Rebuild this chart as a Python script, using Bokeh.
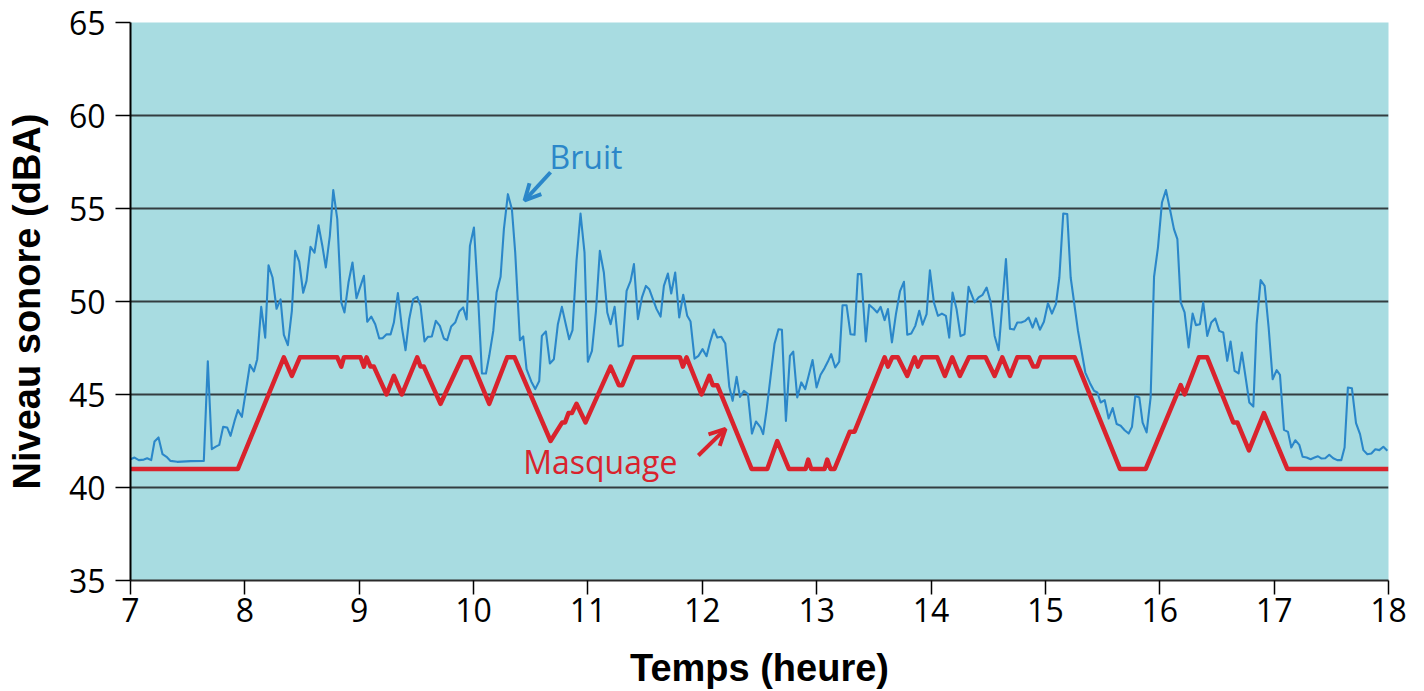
from bokeh.plotting import figure
from bokeh.models import FixedTicker, Label, Arrow, OpenHead
from bokeh.embed import file_html
from bokeh.resources import INLINE

# ---- data ----
bruit_h = [7.000, 7.035, 7.073, 7.117, 7.146, 7.181, 7.210, 7.245, 7.280, 7.315, 7.350, 7.408, 7.525, 7.641,
           7.676, 7.711, 7.746, 7.776, 7.810, 7.845, 7.875, 7.910, 7.939, 7.974, 8.009, 8.044, 8.079, 8.108,
           8.143, 8.178, 8.207, 8.242, 8.277, 8.312, 8.341, 8.376, 8.411, 8.440, 8.475, 8.510, 8.539, 8.574,
           8.609, 8.644, 8.679, 8.708, 8.743, 8.773, 8.808, 8.843,
           8.871, 8.906, 8.941, 8.976, 9.041, 9.070, 9.105, 9.140, 9.175, 9.204, 9.239, 9.274, 9.303, 9.338,
           9.373, 9.405, 9.437, 9.472, 9.507, 9.536, 9.571, 9.600, 9.635, 9.670, 9.705, 9.740, 9.769, 9.804,
           9.839, 9.874, 9.909, 9.939, 9.968, 10.003, 10.038, 10.073, 10.108, 10.137, 10.172, 10.201, 10.236,
           10.265, 10.300, 10.335, 10.364, 10.405, 10.434, 10.463, 10.504, 10.539, 10.574, 10.597, 10.632,
           10.667, 10.702,
           10.737, 10.772, 10.807, 10.836, 10.865, 10.900, 10.935, 10.970, 10.999, 11.035, 11.070, 11.104,
           11.139, 11.169, 11.198, 11.233, 11.268, 11.303, 11.338, 11.373, 11.402, 11.437, 11.472, 11.507,
           11.536, 11.571, 11.600, 11.635, 11.664, 11.699, 11.728, 11.763, 11.798, 11.833, 11.868, 11.897,
           11.932, 11.967, 12.002, 12.037, 12.067, 12.101, 12.131, 12.166, 12.201, 12.236, 12.265, 12.300,
           12.329, 12.364, 12.399, 12.434, 12.469,
           12.509, 12.532, 12.561, 12.596, 12.631, 12.666, 12.696, 12.731, 12.766, 12.795, 12.830, 12.865,
           12.900, 12.929, 12.964, 12.999, 13.034, 13.069, 13.098, 13.127, 13.162, 13.197, 13.226, 13.261,
           13.296, 13.331, 13.360, 13.389, 13.430, 13.459, 13.494, 13.529, 13.559, 13.594, 13.623, 13.658,
           13.693, 13.728, 13.763, 13.792, 13.827, 13.862, 13.897, 13.926, 13.961, 13.990, 14.025, 14.060,
           14.095, 14.130, 14.159, 14.188, 14.223, 14.258, 14.293, 14.328,
           14.381, 14.416, 14.451, 14.486, 14.521, 14.556, 14.591, 14.626, 14.655, 14.690, 14.725, 14.754,
           14.789, 14.824, 14.853, 14.888, 14.917, 14.952, 14.987, 15.022, 15.057, 15.092, 15.122, 15.156,
           15.191, 15.221, 15.285, 15.349, 15.390, 15.425, 15.454, 15.483, 15.518, 15.553, 15.588, 15.623,
           15.658, 15.693, 15.728, 15.757, 15.786, 15.821, 15.850, 15.885, 15.920, 15.950, 15.984, 16.019,
           16.054, 16.089, 16.124, 16.154, 16.183,
           16.217, 16.252, 16.287, 16.316, 16.351, 16.380, 16.415, 16.450, 16.485, 16.520, 16.555, 16.590,
           16.619, 16.654, 16.689, 16.718, 16.753, 16.783, 16.818, 16.847, 16.882, 16.917, 16.952, 16.987,
           17.022, 17.051, 17.086, 17.121, 17.150, 17.185, 17.220, 17.249, 17.284, 17.319, 17.354, 17.383,
           17.412, 17.447, 17.482, 17.517, 17.552, 17.587, 17.616, 17.645, 17.680, 17.716, 17.751, 17.780,
           17.815, 17.850, 17.885, 17.920, 17.955, 17.990]
bruit_db = [41.52, 41.61, 41.47, 41.50, 41.57, 41.47, 42.47, 42.69, 41.79, 41.65, 41.43, 41.38, 41.42, 41.43,
            46.78, 42.06, 42.20, 42.29, 43.26, 43.23, 42.78, 43.58, 44.16, 43.80, 45.20, 46.60, 46.24, 46.90,
            49.71, 48.06, 51.94, 51.29, 49.61, 50.11, 48.21, 47.65, 49.50, 52.72, 52.15, 50.47, 51.11, 52.94,
            52.63, 54.10, 52.94, 51.83, 53.53, 55.99, 54.43, 49.95,
            49.41, 51.02, 52.10, 50.18, 51.38, 48.91, 49.19, 48.78, 48.01, 48.03, 48.24, 48.23, 48.87, 50.45,
            48.60, 47.38, 49.05, 50.13, 50.25, 49.77, 47.85, 48.10, 48.12, 48.96, 48.69, 48.01, 47.92, 48.66,
            48.87, 49.46, 49.68, 49.03, 52.99, 53.98, 50.39, 46.13, 46.13, 47.08, 48.42, 50.48, 51.33,
            53.89, 55.77, 54.96, 52.63, 47.92, 48.12, 46.36, 45.70, 45.29, 45.73, 48.15, 48.39,
            46.67, 46.90,
            48.78, 49.71, 48.75, 47.97, 48.46, 52.19, 54.73, 52.63, 46.76, 47.35, 49.50, 52.72,
            51.56, 49.41, 48.78, 49.71, 47.58, 47.65, 50.57, 51.11, 52.01, 49.05, 50.22, 50.84,
            50.66, 50.07, 49.59, 49.19, 50.84, 51.50, 50.43, 51.56, 49.14, 50.36, 49.23, 48.92,
            46.93, 47.08, 47.44, 47.06, 47.80, 48.49, 48.06, 48.10, 47.74, 45.41, 44.66, 45.95,
            44.87, 45.20, 45.02, 42.90, 43.55,
            43.23, 42.87, 44.12, 45.91, 47.71, 48.51, 48.48, 43.58, 47.08, 47.31, 44.84, 45.65,
            45.29, 46.00, 46.85, 45.38, 46.06, 46.42, 46.77, 47.17, 46.45, 46.77, 49.80, 49.80,
            48.24, 48.21, 51.47, 51.47, 47.85, 49.82, 49.64, 49.41, 49.71, 49.00, 49.59, 47.80,
            49.32, 50.54, 51.06, 48.21, 48.28, 48.69, 49.50, 48.75, 49.32, 51.68, 49.95, 49.23,
            49.35, 49.23, 48.06, 50.48, 49.59, 48.14, 48.24, 50.79,
            49.95, 50.22, 50.36, 50.75, 49.98, 48.15, 47.38, 50.04, 52.28, 48.53, 48.49, 48.87,
            48.87, 48.96, 49.14, 48.60, 49.09, 48.48, 48.91, 49.91, 49.35, 49.86, 51.29, 54.73,
            54.70, 51.29, 48.42, 46.18, 45.61, 45.20, 45.11, 44.57, 44.70, 43.71, 44.27, 43.41,
            43.32, 43.08, 42.90, 43.26, 44.93, 44.84, 43.49, 42.96, 44.84, 51.33, 52.90, 55.32,
            55.99, 54.96, 53.89, 53.35, 49.95,
            49.41, 47.53, 49.35, 48.73, 48.78, 49.95, 48.15, 48.87, 49.09, 48.42, 48.33, 46.81,
            47.85, 46.27, 46.13, 47.26, 45.82, 44.57, 44.35, 48.78, 51.15, 50.84, 48.60, 45.82,
            46.31, 46.06, 43.10, 42.99, 42.15, 42.54, 42.29, 41.65, 41.61, 41.52, 41.61, 41.68,
            41.56, 41.57, 41.76, 41.57, 41.47, 41.47, 42.15, 45.38, 45.34, 43.46, 42.87, 42.01,
            41.79, 41.83, 42.06, 42.01, 42.19, 41.97]

masq_h = [7.000, 7.939, 8.341, 8.411, 8.481, 8.808, 8.843, 8.866, 9.011, 9.041, 9.064, 9.099, 9.128,
          9.239, 9.303, 9.373, 9.507, 9.536, 9.565, 9.711, 9.901, 9.968, 10.137, 10.294, 10.358, 10.673,
          10.775, 10.800, 10.830, 10.860, 10.900, 10.979, 11.198, 11.270, 11.300, 11.401, 11.804, 11.830,
          11.862, 11.993, 12.061, 12.092, 12.131, 12.431, 12.568, 12.655, 12.757, 12.903, 12.926, 12.952,
          13.069, 13.092, 13.121, 13.156, 13.290, 13.331, 13.594, 13.623, 13.661, 13.710, 13.792, 13.856,
          13.885, 13.923, 14.054, 14.121, 14.185, 14.252, 14.331, 14.477, 14.556, 14.623, 14.690, 14.754,
          14.856, 14.894, 14.929, 14.958, 15.256, 15.652, 15.877, 16.183, 16.217, 16.342, 16.415, 16.643,
          16.678, 16.780, 16.911, 17.115, 18.000]
masq_db = [41.0, 41.0, 47.0, 46.0, 47.0, 47.0, 46.5, 47.0, 47.0, 46.5, 47.0, 46.5, 46.5,
           45.0, 46.0, 45.0, 47.0, 46.5, 46.5, 44.5, 47.0, 47.0, 44.5, 47.0, 47.0, 42.5,
           43.5, 43.5, 44.0, 44.0, 44.5, 43.5, 46.5, 45.5, 45.5, 47.0, 47.0, 46.5,
           47.0, 45.0, 46.0, 45.5, 45.5, 41.0, 41.0, 42.5, 41.0, 41.0, 41.5, 41.0,
           41.0, 41.5, 41.0, 41.0, 43.0, 43.0, 47.0, 46.5, 47.0, 47.0, 46.0, 47.0,
           46.5, 47.0, 47.0, 46.0, 47.0, 46.0, 47.0, 47.0, 46.0, 47.0, 46.0, 47.0,
           47.0, 46.5, 46.5, 47.0, 47.0, 41.0, 41.0, 45.5, 45.0, 47.0, 47.0, 43.5,
           43.5, 42.0, 44.0, 41.0, 41.0]

x_ticks = [7, 8, 9, 10, 11, 12, 13, 14, 15, 16, 17, 18]
y_ticks = [35, 40, 45, 50, 55, 60, 65]
grid_ticks = [40, 45, 50, 55, 60]

BLUE = "#2B87C9"
RED = "#D9232D"
BG = "#A8DCE1"

p = figure(frame_width=1258, frame_height=558, x_range=(7, 18), y_range=(35, 65),
           output_backend="svg", toolbar_location=None,
           min_border_left=130, min_border_top=22, min_border_right=20, min_border_bottom=100)
p.background_fill_color = BG
p.border_fill_color = "white"
p.outline_line_color = None

p.xgrid.grid_line_color = None
p.ygrid.ticker = FixedTicker(ticks=grid_ticks)
p.ygrid.grid_line_color = "#333D40"
p.ygrid.grid_line_width = 1.8

for ax in (p.xaxis[0], p.yaxis[0]):
    ax.major_label_text_font = "Open Sans"
    ax.major_label_text_font_size = "32px"
    ax.major_label_text_color = "black"
    ax.axis_label_text_font = "Liberation Sans"
    ax.axis_label_text_font_style = "bold"
    ax.axis_label_text_font_size = "38px"
    ax.axis_label_text_color = "black"
    ax.minor_tick_line_color = None
    ax.major_tick_in = 0
    ax.major_tick_line_color = "black"
    ax.major_tick_line_width = 1.5
    ax.axis_line_width = 2

p.xaxis.ticker = FixedTicker(ticks=x_ticks)
p.yaxis.ticker = FixedTicker(ticks=y_ticks)
p.xaxis.axis_label = "Temps (heure)"
p.yaxis.axis_label = "Niveau sonore (dBA)"
p.xaxis.major_tick_out = 14
p.yaxis.major_tick_out = 15
p.xaxis.major_label_standoff = 3
p.yaxis.major_label_standoff = 10
p.xaxis.axis_label_standoff = 22
p.yaxis.axis_label_standoff = 18
p.xaxis.axis_line_color = "#2a2a2a"
p.yaxis.axis_line_color = "black"

p.line(bruit_h, bruit_db, line_color=BLUE, line_width=2.1, line_join="round")
p.line(masq_h, masq_db, line_color=RED, line_width=4.5, line_join="round")

p.add_layout(Label(x=10.664, y=57.8, text="Bruit", text_font="Open Sans", text_font_size="32px",
                   text_color=BLUE, text_baseline="alphabetic", text_align="left"))
p.add_layout(Arrow(end=OpenHead(size=16, line_color=BLUE, line_width=4),
                   x_start=10.673, y_start=56.95, x_end=10.446, y_end=55.43,
                   line_color=BLUE, line_width=4))
p.add_layout(Label(x=10.434, y=41.39, text="Masquage", text_font="Open Sans", text_font_size="32px",
                   text_color=RED, text_baseline="alphabetic", text_align="left"))
p.add_layout(Arrow(end=OpenHead(size=16, line_color=RED, line_width=4),
                   x_start=11.965, y_start=41.72, x_end=12.203, y_end=43.15,
                   line_color=RED, line_width=4))

open("out.html", "w").write(file_html(p, INLINE))
